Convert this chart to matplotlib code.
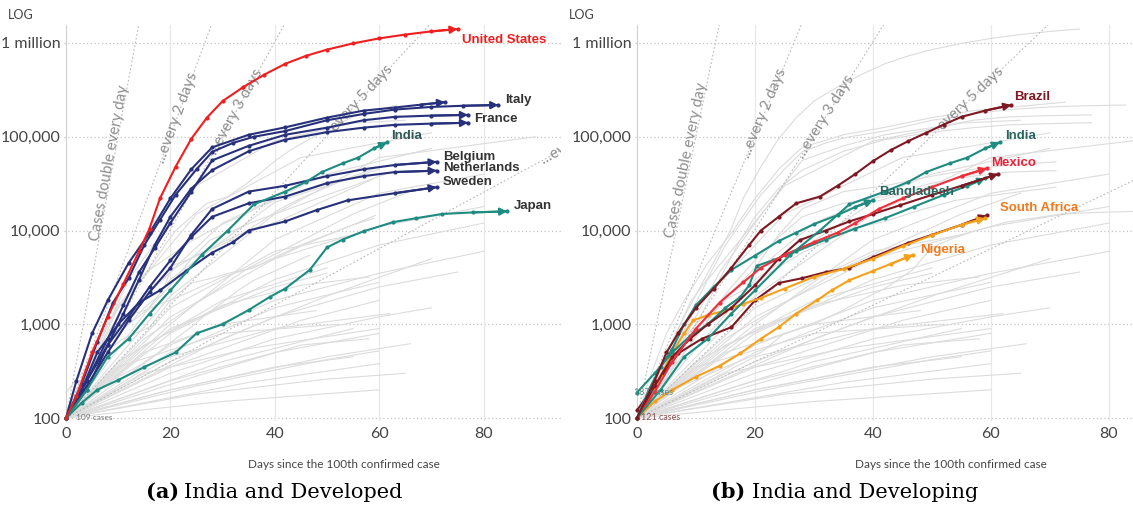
# Days-since-100th-case charts: India vs developed / developing countries

import matplotlib
matplotlib.use('Agg')
import matplotlib.pyplot as plt
import numpy as np

# ------ Panel (a): India and developed ------
us_days = [0, 2, 5, 8, 11, 14, 16, 18, 21, 24, 27, 30, 34, 38, 42, 46, 50, 55, 60, 65, 70, 75]
us_cases = [100, 170, 500, 1200, 2700, 6000, 10500, 22000, 48000, 95000, 160000, 240000,
            340000, 460000, 600000, 730000, 850000, 990000, 1120000, 1230000, 1330000, 1410000]

uk_days = [0, 2, 5, 8, 12, 16, 20, 24, 28, 35, 42, 50, 57, 63, 68, 72.6]
uk_cases = [100, 250, 800, 1800, 4500, 9400, 22000, 45000, 77000, 105000, 126000, 160000,
            190000, 205000, 220000, 234000]

italy_days = [0, 3, 6, 9, 12, 15, 18, 21, 25, 28, 32, 36, 42, 50, 57, 63, 70, 76, 82.8]
italy_cases = [100, 230, 650, 1700, 3100, 7000, 13000, 24000, 45000, 69000, 86000, 100000,
               115000, 150000, 175000, 195000, 208000, 214000, 218000]

france_days = [0, 4, 8, 11, 14, 17, 20, 24, 28, 35, 42, 50, 57, 63, 70, 77]
france_cases = [100, 250, 700, 1600, 3600, 6500, 12000, 26000, 56000, 80000, 105000, 125000,
                150000, 163000, 168000, 171000]

germany_days = [0, 4, 8, 11, 14, 17, 20, 24, 28, 35, 42, 50, 57, 63, 70, 77]
germany_cases = [100, 200, 600, 1300, 3000, 7000, 14000, 28000, 44000, 70000, 93000, 112000,
                 125000, 134000, 138000, 141000]

belgium_days = [0, 4, 8, 12, 16, 20, 24, 28, 35, 42, 50, 57, 63, 71]
belgium_cases = [100, 220, 500, 1100, 2200, 4000, 9000, 17000, 26000, 30000, 38000, 45000, 50000, 54000]

netherlands_days = [0, 4, 8, 12, 16, 20, 24, 28, 35, 42, 50, 57, 63, 71]
netherlands_cases = [100, 250, 600, 1200, 2500, 4800, 8500, 14000, 19500, 23000, 32000, 38000, 42000, 43500]

sweden_days = [0, 3, 6, 10, 14, 18, 23, 28, 32, 35, 42, 48, 54, 63, 71]
sweden_cases = [100, 200, 500, 1000, 1700, 2300, 3700, 5800, 7500, 10000, 12500, 16500, 21000, 25000, 29000]

japan_days = [0, 3, 6, 10, 15, 21, 25, 30, 35, 39, 42, 46.7, 50, 53, 57, 62.7, 67, 72, 78, 84.5]
japan_cases = [100, 145, 200, 254, 350, 500, 800, 1000, 1420, 1950, 2400, 3800, 6600, 8000,
               9800, 12300, 13500, 15000, 15600, 16000]

india_days = [0, 4, 8, 12, 16, 20, 26, 31, 36, 42, 46, 49, 53, 56, 59, 61.5]
india_cases = [100, 200, 450, 700, 1300, 2300, 5500, 10000, 19000, 26000, 33000, 42000, 52000,
               60000, 75000, 87000]

# ------ Panel (b): India and developing ------
brazil_days = [0, 3, 5, 7, 10, 13, 16, 19, 21, 24, 27, 31, 34, 37, 40, 43, 46, 49, 52, 55, 59, 63.4]
brazil_cases = [100, 250, 500, 810, 1500, 2400, 4000, 7000, 10000, 14000, 19500, 23000, 30000,
                40000, 55000, 72000, 90000, 110000, 135000, 163000, 190000, 218000]

mexico_days = [0, 3, 6, 10, 14, 18, 21, 25, 30, 34, 37, 41, 45, 50, 55, 59.3]
mexico_cases = [100, 190, 400, 900, 1700, 2800, 4000, 5500, 7500, 9500, 12000, 17000, 22000,
                29000, 38000, 46000]

bangladesh_days = [0, 2, 4, 6, 8, 10, 13, 16, 20, 24, 27, 30, 34, 37, 40]
bangladesh_cases = [100, 200, 350, 550, 1000, 1600, 2500, 3800, 5400, 7700, 9500, 11700, 14600, 17800, 21000]

teal2_days = [0, 3, 6, 9, 12, 15, 17.5, 19, 20.3, 23, 27, 32, 37, 42, 47, 52, 56, 59]
teal2_cases = [187, 300, 500, 750, 1000, 1500, 1950, 2600, 4200, 4800, 6000, 8000, 10500,
               13500, 18000, 24000, 30000, 36000]

darkred1_days = [0, 3, 6, 9, 12, 16, 20, 24, 27.6, 32, 36, 40, 44.6, 50, 55, 61.2]
darkred1_cases = [100, 220, 450, 700, 1000, 1500, 2600, 5000, 7900, 10000, 12500, 15000, 18600,
                  24000, 30000, 40000]

darkred2_days = [0, 3, 7, 11, 16, 20, 24, 28, 32, 36, 40, 46, 50, 55, 59.3]
darkred2_cases = [121, 220, 490, 700, 930, 1800, 2750, 3100, 3600, 4000, 5200, 7400, 9000, 11500, 14500]

safrica_days = [0, 2, 4, 6, 8, 9.5, 12, 15, 18, 21, 25, 30, 35, 40, 45, 50, 55, 59]
safrica_cases = [100, 150, 280, 500, 800, 1100, 1250, 1400, 1650, 1900, 2400, 3200, 3900, 5000,
                 6800, 8900, 11500, 13500]

nigeria_days = [0, 3, 6, 10, 14, 17.5, 21, 24, 27, 30.5, 33, 36, 40, 43, 46.8]
nigeria_cases = [100, 150, 200, 275, 360, 490, 700, 930, 1300, 1800, 2300, 2950, 3700, 4400, 5500]

# ------ Other countries (grey background) ------
grey_days = [[0, 15, 30, 50, 70], [0, 12, 25, 40, 55, 65], [0, 20, 40, 60], [0, 20, 40, 60, 80],
             [0, 20, 40, 60, 80], [0, 20, 40, 60, 80], [0, 20, 40, 60, 75], [0, 20, 40, 60],
             [0, 20, 40, 60, 70], [0, 20, 40, 60], [0, 20, 40, 55], [0, 25, 50, 65], [0, 30, 60],
             [0, 20, 40, 60, 80], [0, 10, 25, 45, 70], [0, 20, 40, 50], [0, 15, 35, 55, 65],
             [0, 20, 40, 60, 90], [0, 30, 55], [0, 20, 45, 60], [0, 15, 30, 45, 58],
             [0, 20, 40, 55], [0, 25, 50, 60], [0, 10, 30, 50], [0, 30, 50, 70],
             [0, 15, 35, 60], [0, 20, 40, 62], [0, 25, 45, 58], [0, 10, 30, 52], [0, 35, 60],
             [0, 15, 30, 48], [0, 20, 50, 66]]
grey_cases = [[100, 2000, 12000, 40000, 75000], [100, 3000, 30000, 90000, 140000, 150000],
              [100, 3000, 20000, 45000], [100, 1200, 5000, 11000, 18000],
              [100, 800, 3000, 7000, 12000], [100, 600, 1800, 3500, 6000],
              [100, 400, 1200, 2500, 3600], [100, 500, 1500, 2800], [100, 300, 700, 1200, 1500],
              [100, 250, 500, 800], [100, 200, 350, 450], [100, 180, 260, 300], [100, 150, 200],
              [100, 1000, 8000, 25000, 40000], [100, 1500, 15000, 60000, 110000],
              [100, 900, 2500, 3500], [100, 700, 4000, 15000, 25000],
              [100, 2000, 15000, 60000, 100000], [100, 400, 900], [100, 350, 1100, 1800],
              [100, 600, 1600, 2600, 3200], [100, 1500, 6000, 9000], [100, 220, 420, 520],
              [100, 400, 1800, 4000], [100, 700, 2000, 5000],
              [100, 300, 550, 900], [100, 450, 900, 1300], [100, 280, 600, 700],
              [100, 350, 800, 1000], [100, 240, 380], [100, 500, 1000, 1400],
              [100, 200, 450, 620]]

# doubling reference lines
double_periods = [1, 2, 3, 5, 10]
double_labels = ['Cases double every day', '...every 2 days', '...every 3 days',
                 'every 5 days', '...every 10 days']

yticks = [100, 1000, 10000, 100000, 1000000]
ytick_labels = ['100', '1,000', '10,000', '100,000', '1 million']
xticks = [0, 20, 40, 60, 80]

# ------ Colours ------
NAVY = '#27307a'
RED = '#f01e1e'
TEAL = '#1e8c80'
DRED = '#7e1822'
MRED = '#ee2f3c'
ORANGE = '#f5a11c'
GREY = '#dcdcdc'

W, H = 1133, 513
LABEL_FONT = ['Liberation Sans Narrow', 'Liberation Sans', 'DejaVu Sans']


def series(days, cases, color, label=None, lcolor=None, off=(5, 5), arrow=True):
    return dict(d=days, c=cases, color=color, label=label, lcolor=lcolor or color,
                off=off, arrow=arrow)


developed = [
    series(uk_days, uk_cases, NAVY),
    series(italy_days, italy_cases, NAVY, 'Italy', '#333333', (7, 5)),
    series(germany_days, germany_cases, NAVY),
    series(france_days, france_cases, NAVY, 'France', '#333333', (6, -4)),
    series(belgium_days, belgium_cases, NAVY, 'Belgium', '#333333', (7, 5)),
    series(netherlands_days, netherlands_cases, NAVY, 'Netherlands', '#333333', (7, 3)),
    series(sweden_days, sweden_cases, NAVY, 'Sweden', '#333333', (6, 5)),
    series(japan_days, japan_cases, TEAL, 'Japan', '#333333', (7, 5)),
    series(india_days, india_cases, TEAL, 'India', '#2e5a55', (4, 6)),
    series(us_days, us_cases, RED, 'United States', RED, (4, -11)),
]

developing = [
    series(darkred2_days, darkred2_cases, DRED),
    series(safrica_days, safrica_cases, ORANGE, 'South Africa', '#f07a1e', (15, 10)),
    series(nigeria_days, nigeria_cases, ORANGE, 'Nigeria', '#f07a1e', (7, 5)),
    series(teal2_days, teal2_cases, TEAL),
    series(darkred1_days, darkred1_cases, DRED),
    series(mexico_days, mexico_cases, MRED, 'Mexico', '#e8203a', (4, 5)),
    series(bangladesh_days, bangladesh_cases, TEAL, 'Bangladesh', '#2a6660', (6, 8)),
    series(india_days, india_cases, TEAL, 'India', '#2a6660', (5, 6)),
    series(brazil_days, brazil_cases, DRED, 'Brazil', DRED, (3, 8)),
]


def make_axes(fig, x0_px, px_per_day, xmax):
    # 100 cases sits at y=418 px, 93.75 px per decade
    xmin = -0.3
    left = x0_px + xmin * px_per_day
    right = x0_px + xmax * px_per_day
    top, bottom = 25, 421
    ax = fig.add_axes([left / W, (H - bottom) / H, (right - left) / W, (bottom - top) / H])
    ax.set_yscale('log')
    ax.set_xlim(xmin, xmax)
    ax.set_ylim(10 ** (2 - (bottom - 418) / 93.75), 10 ** (2 + (418 - top) / 93.75))
    ax.set_facecolor('none')
    for s in ['top', 'right', 'bottom']:
        ax.spines[s].set_visible(False)
    ax.spines['left'].set_color('#cfcfcf')
    ax.spines['left'].set_position(('data', 0))
    ax.set_yticks(yticks)
    ax.set_yticklabels(ytick_labels)
    ax.yaxis.set_minor_locator(matplotlib.ticker.NullLocator())
    ax.set_xticks(xticks)
    ax.tick_params(length=0, labelsize=11.5, labelcolor='#444444', pad=4)
    for t in ax.get_xticklabels() + ax.get_yticklabels():
        t.set_family('Lato')
    for y in yticks:
        ax.axhline(y, color='#c4c4c4', lw=0.9, ls=(0, (1, 2)), zorder=0)
    for x in xticks[1:]:
        ax.axvline(x, color='#e8e8e8', lw=0.9, zorder=0)
    return ax


def draw_panel(ax, colored, grey, text_days, text_offsets):
    xmin, xmax = ax.get_xlim()

    # ------ grey countries ------
    for d, c in zip(grey_days, grey_cases):
        ax.plot(d, c, color=GREY, lw=0.8, zorder=1)
    for s in grey:
        ax.plot(s['d'], s['c'], color=GREY, lw=0.8, zorder=1)

    # ------ doubling lines ------
    for p, lab, td, toff in zip(double_periods, double_labels, text_days, text_offsets):
        xs = np.linspace(0, xmax, 200)
        ys = 100 * 2 ** (xs / p)
        ax.plot(xs, ys, color='#b8b8b8', lw=0.8, ls=(0, (1.5, 2)), zorder=2)
        if td is None:
            continue
        p0 = ax.transData.transform((td, 100 * 2 ** (td / p)))
        p1 = ax.transData.transform((td + 0.5, 100 * 2 ** ((td + 0.5) / p)))
        ang = np.degrees(np.arctan2(p1[1] - p0[1], p1[0] - p0[0]))
        nx, ny = -np.sin(np.radians(ang)), np.cos(np.radians(ang))
        t = ax.annotate(lab, (td, 100 * 2 ** (td / p)), xytext=(nx * toff, ny * toff),
                        textcoords='offset pixels', rotation=ang, rotation_mode='anchor',
                        ha='center', va='center', fontsize=11, color='#8e8e8e',
                        family='Lato', zorder=2, annotation_clip=False)
        t.set_clip_on(True)
        t.set_clip_box(ax.bbox)

    # ------ coloured countries ------
    for i, s in enumerate(colored):
        z = 4 + i * 0.1
        ax.plot(s['d'], s['c'], color=s['color'], lw=1.5, marker='o', ms=2.0,
                zorder=z, clip_on=False)
        if s['arrow']:
            ax.annotate('', xy=(s['d'][-1], s['c'][-1]), xytext=(s['d'][-2], s['c'][-2]),
                        arrowprops=dict(arrowstyle='-|>,head_length=0.42,head_width=0.22',
                                        color=s['color'], lw=1.5, shrinkA=0, shrinkB=0),
                        zorder=z, annotation_clip=False)
        if s['label']:
            ax.annotate(s['label'], (s['d'][-1], s['c'][-1]), xytext=s['off'],
                        textcoords='offset pixels', ha='left', va='center',
                        fontsize=9.5, fontweight='bold', color=s['lcolor'],
                        family=LABEL_FONT, zorder=10, annotation_clip=False)


fig = plt.figure(figsize=(W / 100, H / 100), dpi=100)

ax1 = make_axes(fig, 66, 5.22, 94.8)
ax2 = make_axes(fig, 637, 5.90, 84.1)

draw_panel(ax1, developed, developing, [9.0, 21.3, 32.5, 56.6, 100.0], [4, 0, 0, 0, 0])
draw_panel(ax2, developing, developed, [9.1, 21.6, 32.0, 56.6, None], [4, 0, 0, 0, 0])

# start annotations
ax1.annotate('109 cases', (0, 100), xytext=(10, 0), textcoords='offset pixels',
             fontsize=6, color='#777777', va='center', family='Lato', zorder=12)
ax2.annotate('187 cases', (0, 187), xytext=(-3, 0), textcoords='offset pixels',
             fontsize=6.5, color='#5f8a86', va='center', family='Lato', zorder=12)
ax2.annotate('121 cases', (0, 100), xytext=(4, 1), textcoords='offset pixels',
             fontsize=6.5, color='#8a5050', va='center', family='Lato', zorder=12)

# ------ figure texts ------
for x in [8, 569]:
    fig.text(x / W, 1 - 15 / H, 'LOG', fontsize=9, color='#444444', family='Lato',
             va='center', ha='left')
fig.text(344 / W, 1 - 464 / H, 'Days since the 100th confirmed case', fontsize=8.5,
         color='#444444', family='Lato', ha='center', va='center')
fig.text(951 / W, 1 - 464 / H, 'Days since the 100th confirmed case', fontsize=8.5,
         color='#444444', family='Lato', ha='center', va='center')

fig.text(179 / W, 1 - 492 / H, '(a)', fontsize=15, fontweight='bold', family='DejaVu Serif',
         ha='right', va='center')
fig.text(184 / W, 1 - 492 / H, 'India and Developed', fontsize=15, family='DejaVu Serif',
         ha='left', va='center')
fig.text(745 / W, 1 - 492 / H, '(b)', fontsize=15, fontweight='bold', family='DejaVu Serif',
         ha='right', va='center')
fig.text(752 / W, 1 - 492 / H, 'India and Developing', fontsize=15, family='DejaVu Serif',
         ha='left', va='center')

plt.savefig('out.png', dpi=100)
